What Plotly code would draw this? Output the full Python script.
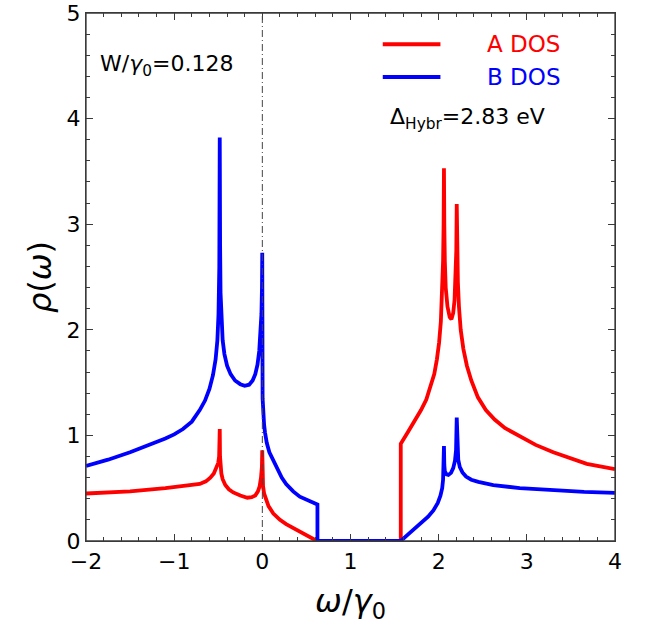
import plotly.graph_objects as go

# ---- data ----
omega_A = [-2.00, -1.50, -1.10, -0.85, -0.71, -0.64, -0.59, -0.55, -0.52, -0.50, -0.49, -0.485, -0.483,
           -0.480, -0.475, -0.465, -0.45, -0.42, -0.38, -0.33, -0.25, -0.17, -0.12, -0.08, -0.05,
           -0.03, -0.015, -0.005, -0.001,
           0.002, 0.008, 0.02, 0.04, 0.07, 0.125, 0.20, 0.27, 0.35, 0.425, 0.52, 0.62,
           1.57, 1.57, 1.65, 1.73, 1.80, 1.86, 1.91, 1.95, 1.98, 2.005, 2.025, 2.04, 2.05, 2.056, 2.06,
           2.064, 2.07, 2.08, 2.10, 2.125, 2.145, 2.165, 2.18, 2.192, 2.20, 2.205,
           2.21, 2.218, 2.23, 2.25, 2.28, 2.32, 2.37, 2.445, 2.535, 2.635, 2.75, 2.92, 3.10, 3.30,
           3.50, 3.68, 4.00]
rho_A = [0.45, 0.47, 0.50, 0.52, 0.54, 0.565, 0.60, 0.64, 0.69, 0.74, 0.80, 0.88, 1.06,
         0.80, 0.70, 0.64, 0.585, 0.53, 0.49, 0.46, 0.43, 0.41, 0.415, 0.43, 0.47,
         0.52, 0.60, 0.70, 0.86,
         0.62, 0.52, 0.45, 0.39, 0.33, 0.26, 0.20, 0.16, 0.125, 0.095, 0.05, 0.0,
         0.0, 0.92, 1.03, 1.14, 1.24, 1.34, 1.46, 1.58, 1.72, 1.88, 2.08, 2.35, 2.65, 3.00, 3.53,
         3.00, 2.65, 2.40, 2.22, 2.12, 2.10, 2.16, 2.28, 2.48, 2.75, 3.19,
         2.75, 2.45, 2.22, 2.00, 1.82, 1.66, 1.52, 1.36, 1.24, 1.15, 1.07, 0.99, 0.91, 0.84,
         0.78, 0.73, 0.68]

omega_B = [-2.00, -1.75, -1.50, -1.25, -1.10, -1.00, -0.90, -0.80, -0.71, -0.65, -0.60, -0.56, -0.53, -0.51,
           -0.497, -0.488, -0.483,
           -0.479, -0.474, -0.465, -0.45, -0.43, -0.40, -0.36, -0.31, -0.25, -0.20, -0.15, -0.11,
           -0.08, -0.055, -0.035, -0.02, -0.01, -0.004, -0.001,
           0.003, 0.01, 0.02, 0.03, 0.05, 0.08, 0.125, 0.17, 0.22, 0.27, 0.35, 0.425, 0.52, 0.625,
           0.625, 1.57, 1.65, 1.73, 1.80, 1.88, 1.94, 1.99, 2.02, 2.04, 2.05, 2.056, 2.06,
           2.064, 2.07, 2.09, 2.11, 2.14, 2.165, 2.185, 2.197, 2.205,
           2.212, 2.222, 2.24, 2.27, 2.31, 2.37, 2.45, 2.62, 2.92, 3.30, 3.65, 4.00]
rho_B = [0.71, 0.77, 0.84, 0.92, 0.97, 1.01, 1.06, 1.13, 1.24, 1.33, 1.44, 1.57, 1.72, 1.90,
         2.15, 2.60, 3.82,
         2.80, 2.35, 2.08, 1.90, 1.77, 1.66, 1.58, 1.52, 1.485, 1.47, 1.48, 1.52,
         1.58, 1.67, 1.80, 1.95, 2.15, 2.40, 2.73,
         1.35, 1.20, 1.10, 1.03, 0.93, 0.84, 0.76, 0.68, 0.60, 0.54, 0.47, 0.42, 0.38, 0.345,
         0.0, 0.0, 0.06, 0.12, 0.17, 0.23, 0.29, 0.36, 0.43, 0.50, 0.58, 0.68, 0.90,
         0.72, 0.66, 0.63, 0.625, 0.645, 0.69, 0.76, 0.86, 1.17,
         0.88, 0.77, 0.70, 0.65, 0.61, 0.58, 0.56, 0.53, 0.50, 0.48, 0.465, 0.455]

x_ticks = [-2, -1, 0, 1, 2, 3, 4]
y_ticks = [0, 1, 2, 3, 4, 5]
series_names = ["A DOS", "B DOS"]
series_colors = ["#ff0000", "#0000ff"]

FONT = "DejaVu Sans"
FRAME = "#3a3a3a"

fig = go.Figure()
fig.add_trace(go.Scatter(x=omega_A, y=rho_A, mode="lines", name=series_names[0],
                         line=dict(color=series_colors[0], width=3.8), showlegend=False))
fig.add_trace(go.Scatter(x=omega_B, y=rho_B, mode="lines", name=series_names[1],
                         line=dict(color=series_colors[1], width=3.8), showlegend=False))

axis_common = dict(
    showgrid=False, zeroline=False, showline=True, linecolor=FRAME, linewidth=1.3,
    mirror="allticks", ticks="inside", ticklen=7, tickwidth=1.2, tickcolor=FRAME,
    tickfont=dict(family=FONT, size=22, color="black"), automargin=False,
)

fig.update_xaxes(range=[-2, 4], tickvals=x_ticks,
                 minor=dict(dtick=0.2, ticks="inside", ticklen=4, tickwidth=1, tickcolor=FRAME),
                 title=dict(text="<i>ω</i>/<i>γ</i><sub>0</sub>", font=dict(family=FONT, size=32, color="black"),
                            standoff=17),
                 **axis_common)
fig.update_yaxes(range=[0, 5], tickvals=y_ticks,
                 minor=dict(dtick=0.2, ticks="inside", ticklen=4, tickwidth=1, tickcolor=FRAME),
                 title=dict(text="<i>ρ</i>(<i>ω</i>)", font=dict(family=FONT, size=32, color="black"),
                            standoff=5),
                 **axis_common)

# frame around the plotting area
fig.add_shape(type="rect", xref="paper", yref="paper", x0=0, x1=1, y0=0, y1=1,
              line=dict(color=FRAME, width=1.3), fillcolor="rgba(0,0,0,0)", layer="above")

# vertical dash-dot line at omega = 0
fig.add_shape(type="line", xref="x", yref="paper", x0=0, x1=0, y0=0, y1=1,
              line=dict(color="#444444", width=1, dash="7px,3px,1px,3px"), layer="above")

# manual legend
leg_y = [0.941, 0.879]
for name, col, yy in zip(series_names, series_colors, leg_y):
    fig.add_shape(type="line", xref="paper", yref="paper", x0=0.561, x1=0.670, y0=yy, y1=yy,
                  line=dict(color=col, width=4))
    fig.add_annotation(xref="paper", yref="paper", x=0.755, y=yy, xanchor="left", yanchor="middle",
                       text=name, showarrow=False, font=dict(family=FONT, size=23, color=col))

fig.add_annotation(xref="paper", yref="paper", x=0.022, y=0.90, xanchor="left", yanchor="middle",
                   text="W/<i>γ</i><sub>0</sub>=0.128", showarrow=False,
                   font=dict(family=FONT, size=22, color="black"))
fig.add_annotation(xref="paper", yref="paper", x=0.570, y=0.80, xanchor="left", yanchor="middle",
                   text="Δ<sub>Hybr</sub>=2.83 eV", showarrow=False,
                   font=dict(family=FONT, size=22, color="black"))

fig.update_layout(width=646, height=642, margin=dict(l=86, r=31, t=13, b=101),
                  plot_bgcolor="white", paper_bgcolor="white", font=dict(family=FONT))

# remove the browser's default body margin so the figure sits at the page origin
fig.write_html("out.html", config={"displayModeBar": False},
               post_script="document.body.style.margin='0';document.body.style.overflow='hidden';")
